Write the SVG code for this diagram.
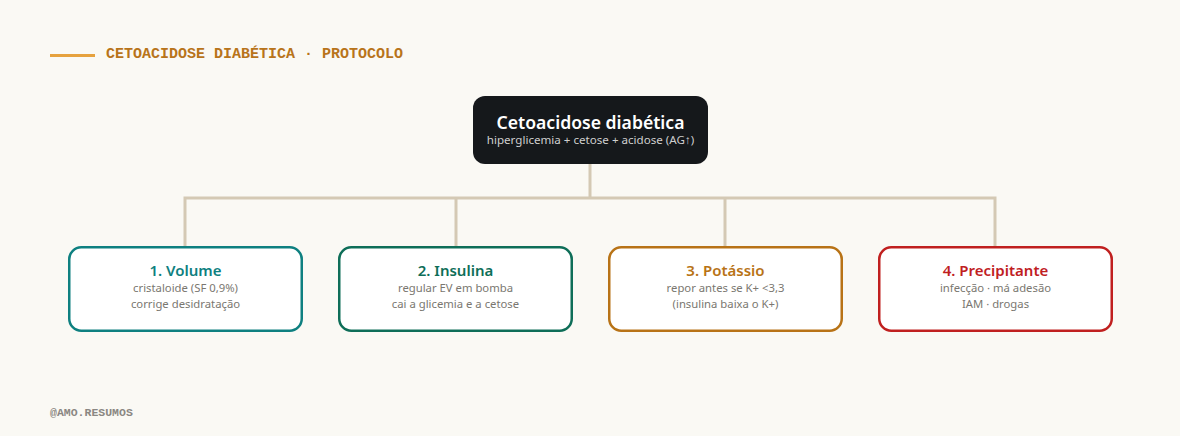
<svg xmlns="http://www.w3.org/2000/svg" width="1180" height="436" viewBox="0 0 1180 436">
<style>
.hdr{font-family:"Liberation Mono",monospace;font-weight:bold;font-size:15px;fill:#b8741a}
.foot{font-family:"Liberation Mono",monospace;font-weight:bold;font-size:11.5px;fill:#8a8782}
.conn{stroke:#d4c9b4;stroke-width:3;fill:none}
.box{fill:#ffffff;stroke-width:2.5}
.ttl{font-family:"Noto Sans","Open Sans",sans-serif;font-weight:600;font-size:15px;text-anchor:middle}
.sub{font-family:"Noto Sans","Open Sans",sans-serif;font-size:11.3px;fill:#7a7770;text-anchor:middle}
</style>
<rect width="1180" height="436" fill="#faf9f4"/>
<line x1="50" y1="55.5" x2="95" y2="55.5" stroke="#e6a23e" stroke-width="3"/>
<text class="hdr" x="106" y="58">CETOACIDOSE DIABÉTICA · PROTOCOLO</text>
<g id="connectors">
<path class="conn" d="M590 164V198M185 247V198H995V247M456 198V247M725 198V247"/>
</g>
<g id="root">
<rect x="473" y="96" width="235" height="68" rx="12" fill="#15181b"/>
<text x="590.5" y="129" text-anchor="middle" font-family="Noto Sans,Open Sans,sans-serif" font-size="17.6" font-weight="600" fill="#ffffff">Cetoacidose diabética</text>
<text x="590.5" y="144" text-anchor="middle" font-family="Noto Sans,Open Sans,sans-serif" font-size="11.6" fill="#cfcfcf">hiperglicemia + cetose + acidose (AG↑)</text>
</g>
<g id="n1">
<rect class="box" x="69.25" y="247.25" width="232.5" height="83.5" rx="12" stroke="#0e8080"/>
<text class="ttl" x="185.5" y="276" fill="#0e8080">1. Volume</text>
<text class="sub" x="185.5" y="292">cristaloide (SF 0,9%)</text>
<text class="sub" x="185.5" y="308">corrige desidratação</text>
</g>
<g id="n2">
<rect class="box" x="339.25" y="247.25" width="232.5" height="83.5" rx="12" stroke="#0e6e58"/>
<text class="ttl" x="455.5" y="276" fill="#0e6e58">2. Insulina</text>
<text class="sub" x="455.5" y="292">regular EV em bomba</text>
<text class="sub" x="455.5" y="308">cai a glicemia e a cetose</text>
</g>
<g id="n3">
<rect class="box" x="609.25" y="247.25" width="232.5" height="83.5" rx="12" stroke="#b87316"/>
<text class="ttl" x="725.5" y="276" fill="#b87316">3. Potássio</text>
<text class="sub" x="725.5" y="292">repor antes se K+ &lt;3,3</text>
<text class="sub" x="725.5" y="308">(insulina baixa o K+)</text>
</g>
<g id="n4">
<rect class="box" x="879.25" y="247.25" width="232.5" height="83.5" rx="12" stroke="#c0201f"/>
<text class="ttl" x="995.5" y="276" fill="#c0201f">4. Precipitante</text>
<text class="sub" x="995.5" y="292">infecção · má adesão</text>
<text class="sub" x="995.5" y="308">IAM · drogas</text>
</g>
<text class="foot" x="50" y="416">@AMO.RESUMOS</text>
</svg>
